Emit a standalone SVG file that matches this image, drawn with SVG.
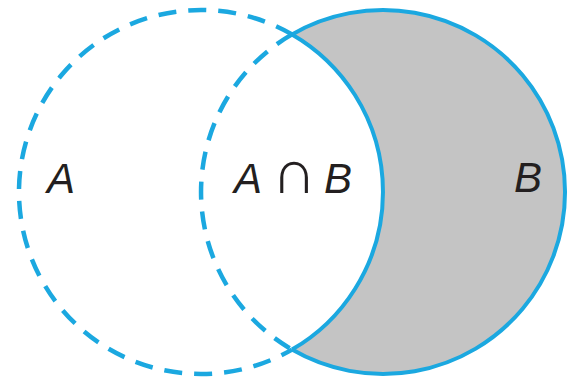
<svg xmlns="http://www.w3.org/2000/svg" width="570" height="382" viewBox="0 0 570 382">
  <style>
    .solid { fill: none; stroke: #1BA8E0; stroke-width: 4; }
    .dashed { fill: none; stroke: #1BA8E0; stroke-width: 4.5; stroke-dasharray: 18 12; }
    .shade { fill: #C4C4C4; stroke: none; }
    .lbl { font-family: "Liberation Sans", "DejaVu Sans", sans-serif; font-size: 42px; fill: #231F20; }
    .it { font-style: italic; }
  </style>
  <rect width="570" height="382" fill="#FFFFFF"/>
  <g id="region-B-minus-A">
    <path class="shade" d="M292,34.4 A182,182 0 1 1 292,349.6 A182,182 0 0 0 292,34.4 Z"/>
  </g>
  <g id="set-A">
    <path class="dashed" d="M292,34.4 A182,182 0 1 0 292,349.6"/>
    <path class="solid" d="M292,349.6 A182,182 0 0 0 292,34.4"/>
    <text class="lbl it" x="47" y="193">A</text>
  </g>
  <g id="set-B">
    <path class="dashed" d="M292,34.4 A182,182 0 0 0 292,349.6"/>
    <path class="solid" d="M292,34.4 A182,182 0 1 1 292,349.6"/>
    <text class="lbl it" x="514" y="192">B</text>
  </g>
  <g id="intersection">
    <text class="lbl" y="193"><tspan class="it" x="234">A</tspan><tspan x="272" font-size="62" font-weight="normal">∩</tspan><tspan class="it" x="324">B</tspan></text>
  </g>
  <g id="connectors"/>
</svg>
